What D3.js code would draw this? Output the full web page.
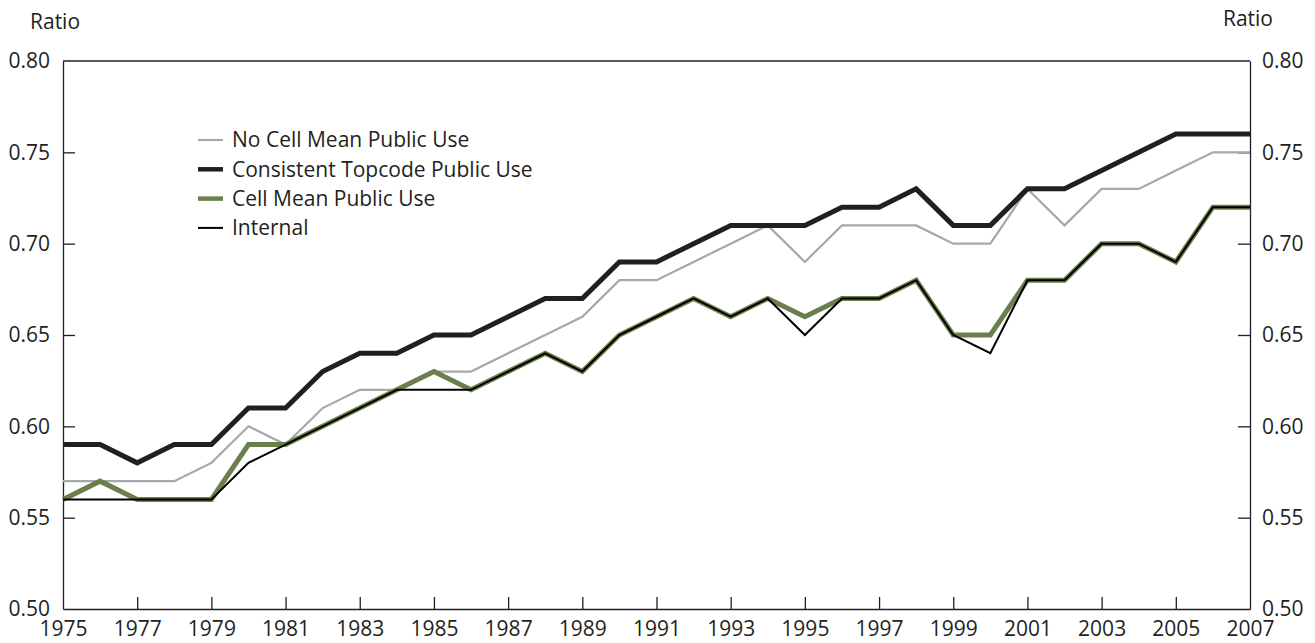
<!DOCTYPE html>
<html>
<head>
<meta charset="utf-8">
<script src="https://cdn.jsdelivr.net/npm/d3@7"></script>
<style>
  body { margin: 0; background: #fff; }
  svg text { font-family: "Open Sans", sans-serif; fill: #231f20; }
</style>
</head>
<body>
<svg id="chart" width="1315" height="643"></svg>
<script>
// values, one per year
const years = d3.range(1975, 2008);
const noCellMean = [0.57, 0.57, 0.57, 0.57, 0.58, 0.60, 0.59, 0.61, 0.62, 0.62, 0.63, 0.63, 0.64, 0.65, 0.66, 0.68, 0.68,
    0.69, 0.70, 0.71, 0.69, 0.71, 0.71, 0.71, 0.70, 0.70, 0.73, 0.71, 0.73, 0.73, 0.74, 0.75, 0.75];
const topcode = [0.59, 0.59, 0.58, 0.59, 0.59, 0.61, 0.61, 0.63, 0.64, 0.64, 0.65, 0.65, 0.66, 0.67, 0.67, 0.69, 0.69,
    0.70, 0.71, 0.71, 0.71, 0.72, 0.72, 0.73, 0.71, 0.71, 0.73, 0.73, 0.74, 0.75, 0.76, 0.76, 0.76];
const cellMean = [0.56, 0.57, 0.56, 0.56, 0.56, 0.59, 0.59, 0.60, 0.61, 0.62, 0.63, 0.62, 0.63, 0.64, 0.63, 0.65, 0.66,
    0.67, 0.66, 0.67, 0.66, 0.67, 0.67, 0.68, 0.65, 0.65, 0.68, 0.68, 0.70, 0.70, 0.69, 0.72, 0.72];
const internal = [0.56, 0.56, 0.56, 0.56, 0.56, 0.58, 0.59, 0.60, 0.61, 0.62, 0.62, 0.62, 0.63, 0.64, 0.63, 0.65, 0.66,
    0.67, 0.66, 0.67, 0.65, 0.67, 0.67, 0.68, 0.65, 0.64, 0.68, 0.68, 0.70, 0.70, 0.69, 0.72, 0.72];
const yTicks = [0.50, 0.55, 0.60, 0.65, 0.70, 0.75, 0.80];
const xTicks = d3.range(1975, 2008, 2);

// drawing order: gray, thick black, green, then thin black on top
const series = [
    { name: 'No Cell Mean Public Use', values: noCellMean, color: '#a7a8aa', width: 2.2 },
    { name: 'Consistent Topcode Public Use', values: topcode, color: '#231f20', width: 5 },
    { name: 'Cell Mean Public Use', values: cellMean, color: '#6b7f4c', width: 5 },
    { name: 'Internal', values: internal, color: '#000000', width: 2 },
];

const plotLeft = 63, plotRight = 1250, plotTop = 61, plotBottom = 609;
const tickLen = 12;

const svg = d3.select('#chart');
const x = d3.scaleLinear().domain([1975, 2007]).range([plotLeft, plotRight]);
const y = d3.scaleLinear().domain([0.5, 0.8]).range([plotBottom, plotTop]);

// axes, ticks point inward
svg.append('g').attr('transform', `translate(0,${plotBottom})`)
    .call(d3.axisBottom(x).tickValues(xTicks).tickFormat(d3.format('d')).tickSizeInner(-tickLen).tickSizeOuter(0).tickPadding(12));
svg.append('g').attr('transform', `translate(${plotLeft},0)`)
    .call(d3.axisLeft(y).tickValues(yTicks).tickFormat(d3.format('.2f')).tickSizeInner(-tickLen).tickSizeOuter(0).tickPadding(13));
svg.append('g').attr('transform', `translate(${plotRight},0)`)
    .call(d3.axisRight(y).tickValues(yTicks).tickFormat(d3.format('.2f')).tickSizeInner(-tickLen).tickSizeOuter(0).tickPadding(12));
svg.append('line').attr('x1', plotLeft).attr('x2', plotRight).attr('y1', plotTop).attr('y2', plotTop);

svg.selectAll('.domain, .tick line, line').attr('stroke', '#231f20').attr('stroke-width', 1.3);
svg.selectAll('.tick text').attr('font-size', '21px').attr('fill', '#231f20');
// hide end ticks that fall on the frame
svg.selectAll('.tick line').filter((d) => d === 0.5 || d === 0.8 || d === 1975 || d === 2007).remove();

svg.append('text').attr('x', 30).attr('y', 29).attr('font-size', '21px').text('Ratio');
svg.append('text').attr('x', 1273).attr('y', 26).attr('text-anchor', 'end').attr('font-size', '21px').text('Ratio');

const lineGen = d3.line().x((d, i) => x(years[i])).y((d) => y(d));
svg.selectAll('path.series')
    .data(series)
    .enter()
    .append('path')
    .attr('class', 'series')
    .attr('d', (d) => lineGen(d.values))
    .attr('fill', 'none')
    .attr('stroke', (d) => d.color)
    .attr('stroke-width', (d) => d.width)
    .attr('stroke-linejoin', 'miter');

// legend
const legend = svg.append('g').selectAll('g').data(series).enter().append('g')
    .attr('transform', (d, i) => `translate(198,${140 + i * 29.3})`);
legend.append('line').attr('x1', 0).attr('x2', 25).attr('y1', 0).attr('y2', 0)
    .attr('stroke', (d) => d.color).attr('stroke-width', (d) => Math.min(d.width, 4.5));
legend.append('text').attr('x', 34).attr('dy', '0.35em').attr('font-size', '21px').text((d) => d.name);
</script>
</body>
</html>
